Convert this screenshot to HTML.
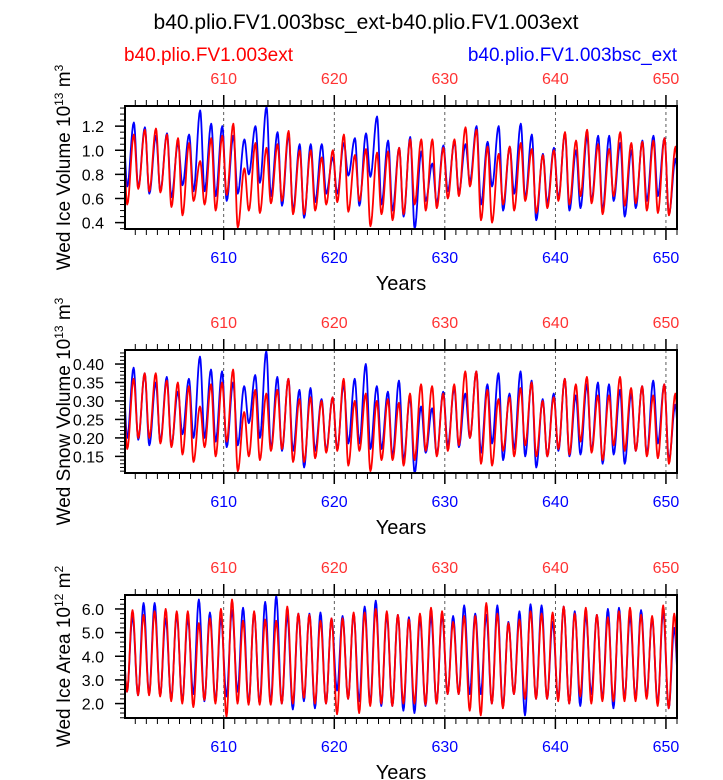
<!DOCTYPE html>
<html><head><meta charset="utf-8">
<style>
html,body{margin:0;padding:0;background:#fff;}
svg{display:block;font-family:"Liberation Sans",sans-serif;}
</style></head>
<body>
<svg id="chart" width="723" height="780" viewBox="0 0 723 780" xmlns="http://www.w3.org/2000/svg">
<text x="366" y="29" font-size="21" text-anchor="middle" fill="#000">b40.plio.FV1.003bsc_ext-b40.plio.FV1.003ext</text>
<text x="124" y="61" font-size="19" fill="#ff0000">b40.plio.FV1.003ext</text>
<text x="677" y="61" font-size="19" text-anchor="end" fill="#0000ff">b40.plio.FV1.003bsc_ext</text>
<g id="plots"></g>
</svg>
<script>
const years = [601,602,603,604,605,606,607,608,609,610,611,612,613,614,615,616,617,618,619,620,621,622,623,624,625,626,627,628,629,630,631,632,633,634,635,636,637,638,639,640,641,642,643,644,645,646,647,648,649,650];
const xTicks = [610,620,630,640,650];

const iceVolBluePeak = [1.23,1.19,1.12,1.14,1.06,1.13,1.33,1.22,1.2,1.12,1.09,1.2,1.36,1.15,1.13,1.05,1.05,1.05,0.94,1.06,1.1,1.14,1.28,1.08,1.02,1.11,0.99,0.89,1.04,1.07,1.05,1.2,1.07,1.2,1.03,1.22,1.13,0.97,1.02,1.14,1.0,1.12,1.12,1.12,1.06,1.0,1.08,1.12,1.1,0.93];
const iceVolBlueTrough = [0.7,0.69,0.64,0.66,0.61,0.71,0.66,0.66,0.62,0.58,0.64,0.8,0.73,0.62,0.54,0.5,0.44,0.57,0.64,0.64,0.79,0.54,0.78,0.55,0.5,0.45,0.35,0.58,0.56,0.66,0.65,0.74,0.55,0.7,0.5,0.64,0.6,0.42,0.56,0.6,0.5,0.52,0.58,0.5,0.58,0.45,0.52,0.58,0.62,0.47];
const iceVolRedPeak = [1.13,1.17,1.18,1.13,1.1,1.06,0.91,1.1,1.12,1.22,0.85,1.06,1.02,1.05,1.16,1.0,1.0,0.94,1.0,1.13,0.96,1.01,0.98,0.99,1.02,1.09,1.09,1.09,1.02,1.09,1.19,1.17,1.03,0.97,1.03,1.06,1.01,0.96,1.0,1.15,1.08,1.17,1.05,1.01,1.15,1.06,1.07,1.08,1.1,1.03];
const iceVolRedTrough = [0.55,0.68,0.66,0.65,0.53,0.46,0.58,0.55,0.5,0.63,0.36,0.5,0.48,0.56,0.58,0.47,0.47,0.5,0.55,0.57,0.49,0.58,0.37,0.47,0.42,0.47,0.55,0.5,0.52,0.6,0.62,0.7,0.42,0.4,0.55,0.5,0.58,0.48,0.52,0.58,0.55,0.62,0.56,0.47,0.62,0.54,0.56,0.5,0.48,0.46];

const snowBluePeak = [0.39,0.375,0.35,0.365,0.325,0.36,0.42,0.385,0.38,0.35,0.34,0.37,0.435,0.365,0.36,0.33,0.335,0.305,0.31,0.345,0.36,0.4,0.34,0.325,0.355,0.31,0.285,0.28,0.325,0.335,0.32,0.38,0.345,0.375,0.32,0.38,0.355,0.305,0.32,0.36,0.315,0.345,0.35,0.345,0.33,0.32,0.34,0.355,0.345,0.29];
const snowBlueTrough = [0.2,0.195,0.18,0.19,0.18,0.21,0.2,0.2,0.19,0.175,0.18,0.24,0.2,0.17,0.165,0.165,0.12,0.165,0.165,0.17,0.185,0.185,0.17,0.17,0.15,0.14,0.105,0.16,0.155,0.18,0.175,0.2,0.16,0.185,0.14,0.17,0.15,0.12,0.15,0.165,0.15,0.155,0.165,0.13,0.155,0.13,0.165,0.155,0.185,0.14];
const snowRedPeak = [0.36,0.375,0.375,0.355,0.35,0.34,0.285,0.345,0.35,0.385,0.27,0.33,0.32,0.33,0.36,0.305,0.31,0.3,0.31,0.36,0.3,0.32,0.3,0.305,0.295,0.32,0.345,0.34,0.32,0.345,0.38,0.38,0.33,0.305,0.31,0.335,0.35,0.3,0.31,0.36,0.345,0.365,0.315,0.315,0.365,0.335,0.34,0.315,0.345,0.32];
const snowRedTrough = [0.17,0.2,0.2,0.185,0.175,0.155,0.135,0.175,0.15,0.19,0.11,0.15,0.14,0.165,0.17,0.135,0.135,0.145,0.16,0.165,0.125,0.165,0.11,0.14,0.14,0.125,0.14,0.165,0.15,0.165,0.18,0.2,0.13,0.125,0.165,0.15,0.18,0.15,0.15,0.17,0.155,0.19,0.16,0.14,0.18,0.165,0.165,0.15,0.145,0.13];

const areaBluePeak = [5.7,6.25,6.25,5.6,5.75,5.6,6.4,5.85,5.6,5.95,6.05,5.85,6.3,6.55,5.75,5.8,5.8,5.85,5.6,5.7,5.8,6.1,6.35,5.75,5.75,5.65,5.6,5.7,5.75,5.7,6.15,5.8,5.75,6.15,5.45,5.9,6.2,6.15,5.45,6.1,5.9,5.75,5.75,6.0,6.05,5.7,5.95,5.6,5.9,5.2];
const areaBlueTrough = [2.5,2.35,2.4,2.35,2.2,2.1,2.4,2.1,2.1,2.3,2.5,2.0,2.0,2.0,2.0,1.75,2.1,1.8,2.0,2.55,2.2,2.1,2.0,1.9,1.9,1.7,1.6,1.9,2.0,2.4,2.4,2.4,2.4,2.0,1.85,2.4,1.5,2.2,2.2,2.2,2.0,1.9,2.4,2.2,1.8,2.2,2.2,2.3,2.0,1.8];
const areaRedPeak = [5.95,5.75,5.9,6.0,5.9,5.9,5.4,5.6,6.0,6.4,5.5,5.9,5.55,5.5,6.1,5.8,5.75,5.5,5.6,5.6,5.85,5.85,6.0,5.9,5.75,5.55,5.8,6.05,5.9,5.45,5.7,5.7,6.25,5.8,5.4,5.55,5.9,5.8,5.85,6.1,5.8,6.05,5.75,5.65,5.9,6.05,5.75,5.7,6.15,5.8];
const areaRedTrough = [2.5,2.35,2.35,2.3,2.1,2.0,1.85,2.15,2.0,1.45,2.0,1.95,1.95,1.95,2.0,2.0,2.25,2.0,2.0,1.55,2.2,1.6,1.9,2.0,1.9,2.0,2.0,1.95,2.0,2.4,2.4,1.7,1.5,2.0,1.8,2.4,2.2,2.2,2.2,2.1,2.0,2.3,2.0,2.1,2.1,2.1,2.1,2.2,1.9,1.8];

const iceVolTicks = [0.4,0.6,0.8,1.0,1.2];
const snowTicks = [0.15,0.20,0.25,0.30,0.35,0.40];
const areaTicks = [2.0,3.0,4.0,5.0,6.0];

const NS = "http://www.w3.org/2000/svg";
const root = document.getElementById('plots');
function mk(tag, attrs, parent){
  const e = document.createElementNS(NS, tag);
  for (const k in attrs) e.setAttribute(k, attrs[k]);
  (parent||root).appendChild(e);
  return e;
}
const X0 = 125, X1 = 677, XMIN = 601.07, XMAX = 651.0;
function xs(v){ return X0 + (v - XMIN) / (XMAX - XMIN) * (X1 - X0); }

function panel(cfg){
  const g = mk('g', {});
  
  
  const ys = v => cfg.bot - (v - cfg.ymin) / (cfg.ymax - cfg.ymin) * (cfg.bot - cfg.top);
  const clipId = 'clip-' + cfg.name;
  const cp = mk('clipPath', {id: clipId}, g);
  mk('rect', {x: X0, y: cfg.top, width: X1 - X0, height: cfg.bot - cfg.top}, cp);
  xTicks.forEach(t => {
    const l = mk('line', {x1: xs(t), x2: xs(t), y1: cfg.top, y2: cfg.bot, stroke: '#333', 'stroke-width': 0.8, 'stroke-dasharray': '3,3'}, g);
    
    
  });
  const series = [
    {peak: cfg.bp, trough: cfg.bt, color: '#0000ff', name: 'blue-series-line'},
    {peak: cfg.rp, trough: cfg.rt, color: '#ff0000', name: 'red-series-line'}
  ];
  series.forEach(s => {
    const ext = [];
    ext.push([years[0] - 1 + cfg.pk, s.peak[0]]);
    years.forEach((y, i) => {
      ext.push([y + cfg.tr, s.trough[i]]);
      ext.push([y + cfg.pk, s.peak[i]]);
    });
    ext.push([years[years.length - 1] + 1 + cfg.tr, s.trough[s.trough.length - 1]]);
    let d = '';
    for (let i = 0; i < ext.length - 1; i++) {
      const [xa, va] = ext[i], [xb, vb] = ext[i + 1];
      const n = 8;
      for (let k = 0; k <= n; k++) {
        const f = k / n;
        const w = (1 - Math.cos(Math.PI * f)) / 2;
        const xx = xa + (xb - xa) * f, vv = va + (vb - va) * w;
        d += (d === '' ? 'M' : 'L') + xs(xx).toFixed(2) + ',' + ys(vv).toFixed(2);
      }
    }
    const p = mk('path', {d: d, fill: 'none', stroke: s.color, 'stroke-width': 1.8, 'clip-path': 'url(#' + clipId + ')', 'stroke-linejoin': 'round'}, g);
    
    
  });
  const fr = mk('rect', {x: X0, y: cfg.top, width: X1 - X0, height: cfg.bot - cfg.top, fill: 'none', stroke: '#000', 'stroke-width': 2}, g);
  
  
  for (let y = 602; y <= 651; y++) {
    const major = (y % 10 === 0);
    const len = major ? 11 : 6;
    mk('line', {x1: xs(y), x2: xs(y), y1: cfg.bot, y2: cfg.bot + len, stroke: '#000', 'stroke-width': major ? 1.5 : 1}, g);
    mk('line', {x1: xs(y), x2: xs(y), y1: cfg.top, y2: cfg.top - len, stroke: '#000', 'stroke-width': major ? 1.5 : 1}, g);
  }
  xTicks.forEach(t => {
    const b = mk('text', {x: xs(t), y: cfg.bot + 34, 'font-size': 16, 'text-anchor': 'middle', fill: '#0000ff'}, g);
    b.textContent = t;
    
    
    const tp = mk('text', {x: xs(t), y: cfg.top - 22, 'font-size': 16, 'text-anchor': 'middle', fill: '#ff3333', 'font-weight': '300'}, g);
    tp.textContent = t;
    
    
  });
  for (let v = cfg.minorStart; v <= cfg.ymax + 1e-9; v += cfg.minor) {
    if (v < cfg.ymin - 1e-9) continue;
    mk('line', {x1: X0, x2: X0 - 5, y1: ys(v), y2: ys(v), stroke: '#000', 'stroke-width': 1}, g);
  }
  cfg.ticks.forEach(t => {
    mk('line', {x1: X0, x2: X0 - 10, y1: ys(t), y2: ys(t), stroke: '#000', 'stroke-width': 1.5}, g);
    const tl = mk('text', {x: X0 - 21, y: ys(t) + 6, 'font-size': 16, 'text-anchor': 'end', fill: '#000'}, g);
    tl.textContent = t.toFixed(cfg.dec);
    
    
  });
  const xt = mk('text', {x: 401, y: cfg.bot + 61, 'font-size': 20, 'text-anchor': 'middle', fill: '#000'}, g);
  xt.textContent = 'Years';
  
  
  const cy = (cfg.top + cfg.bot) / 2;
  const yt = mk('text', {x: 0, y: 0, 'font-size': 19, 'text-anchor': 'middle', fill: '#000', transform: 'translate(70,' + cy + ') rotate(-90)'}, g);
  yt.innerHTML = cfg.ylabel;
  
  
}

panel({name: 'ice-volume-panel', top: 106, bot: 229, ymin: 0.347, ymax: 1.367, ticks: iceVolTicks, dec: 1, minor: 0.05, minorStart: 0.35,
  bp: iceVolBluePeak, bt: iceVolBlueTrough, rp: iceVolRedPeak, rt: iceVolRedTrough, pk: 0.87, tr: 0.27,
  ylabel: 'Wed Ice Volume 10<tspan dy="-7" font-size="12">13</tspan><tspan dy="7"> m</tspan><tspan dy="-7" font-size="12">3</tspan>'});
panel({name: 'snow-volume-panel', top: 350, bot: 473, ymin: 0.105, ymax: 0.438, ticks: snowTicks, dec: 2, minor: 0.01, minorStart: 0.11,
  bp: snowBluePeak, bt: snowBlueTrough, rp: snowRedPeak, rt: snowRedTrough, pk: 0.85, tr: 0.27,
  ylabel: 'Wed Snow Volume 10<tspan dy="-7" font-size="12">13</tspan><tspan dy="7"> m</tspan><tspan dy="-7" font-size="12">3</tspan>'});
panel({name: 'ice-area-panel', top: 595, bot: 718, ymin: 1.39, ymax: 6.59, ticks: areaTicks, dec: 1, minor: 0.2, minorStart: 1.4,
  bp: areaBluePeak, bt: areaBlueTrough, rp: areaRedPeak, rt: areaRedTrough, pk: 0.75, tr: 0.25,
  ylabel: 'Wed Ice Area 10<tspan dy="-7" font-size="12">12</tspan><tspan dy="7"> m</tspan><tspan dy="-7" font-size="12">2</tspan>'});
</script>
</body></html>
